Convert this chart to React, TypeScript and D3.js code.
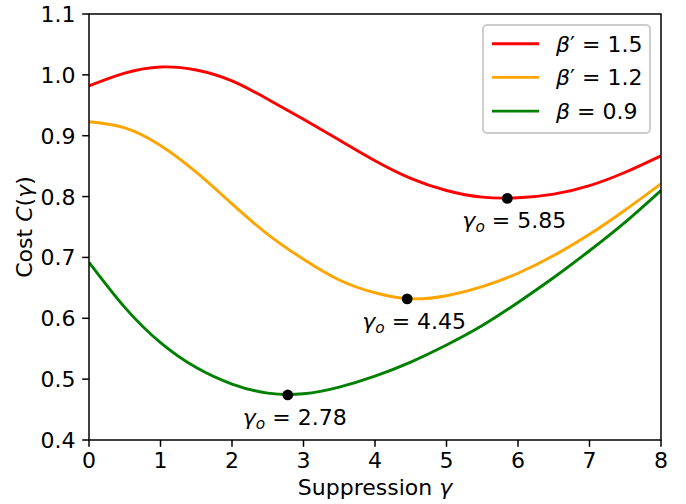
import React from "react";
import * as d3 from "d3";

// values
const gammas = [0, 0.5, 1, 1.5, 2, 2.5, 3, 3.5, 4, 4.5, 5, 5.5, 6, 6.5, 7, 7.5, 8];
const costRed = [0.982, 1.003, 1.013, 1.008, 0.99, 0.96, 0.927, 0.893, 0.859, 0.83, 0.81, 0.799, 0.798, 0.804, 0.818, 0.84, 0.867];
const costOrange = [0.923, 0.913, 0.884, 0.84, 0.788, 0.738, 0.697, 0.663, 0.642, 0.632, 0.637, 0.652, 0.674, 0.703, 0.738, 0.778, 0.821];
const costGreen = [0.692, 0.618, 0.56, 0.519, 0.492, 0.477, 0.476, 0.487, 0.505, 0.528, 0.556, 0.588, 0.626, 0.667, 0.711, 0.758, 0.81];

const seriesNames = ["1.5", "1.2", "0.9"];
const seriesPrime = [true, true, false];
const seriesColors = ["#ff0000", "#ffa500", "#008000"];

const optGamma = [5.85, 4.45, 2.78];
const optCost = [0.797, 0.632, 0.474];
const optLabels = ["5.85", "4.45", "2.78"];

const xTicks = [0, 1, 2, 3, 4, 5, 6, 7, 8];
const yTicks = [0.4, 0.5, 0.6, 0.7, 0.8, 0.9, 1.0, 1.1];

const W = 686;
const H = 504;
const margin = { left: 89, right: 25, top: 14, bottom: 64 };
const FONT = "DejaVu Sans";
const FS = 22;

export default function App() {
  const x = d3.scaleLinear().domain([0, 8]).range([margin.left, W - margin.right]);
  const y = d3.scaleLinear().domain([0.4, 1.1]).range([H - margin.bottom, margin.top]);
  const series = [costRed, costOrange, costGreen];
  const line = d3
    .line<number>()
    .x((_, i) => x(gammas[i]))
    .y((d) => y(d))
    .curve(d3.curveNatural);

  const x0 = x(0), x1 = x(8), y0 = y(0.4), y1 = y(1.1);
  const tick = 6.8;
  const fmt = d3.format(".1f");

  // legend box
  const lg = { x: 483, y: 25, w: 167, h: 108 };

  return (
    <svg
      width={W}
      height={H}
      style={{ position: "absolute", left: 0, top: 0, background: "#fff" }}
      fontFamily={FONT}
      fontSize={FS}
    >
      <rect width={W} height={H} fill="#fff" />
      <clipPath id="plot">
        <rect x={x0} y={y1} width={x1 - x0} height={y0 - y1} />
      </clipPath>

      <g clipPath="url(#plot)">
        {series.map((s, i) => (
          <path key={i} d={line(s) || ""} fill="none" stroke={seriesColors[i]} strokeWidth={2.9} />
        ))}
      </g>

      {optGamma.map((g, i) => (
        <g key={i}>
          <circle cx={x(g)} cy={y(optCost[i])} r={5.4} fill="#000" />
          <text x={x(g) + 7} y={y(optCost[i]) + 30} textAnchor="middle" fill="#000">
            <tspan fontStyle="italic">γ</tspan>
            <tspan fontStyle="italic" fontSize={FS * 0.7} dy={4}>o</tspan>
            <tspan dy={-4}>{" = " + optLabels[i]}</tspan>
          </text>
        </g>
      ))}

      {/* axes frame */}
      <rect x={x0} y={y1} width={x1 - x0} height={y0 - y1} fill="none" stroke="#000" strokeWidth={1.5} />

      {xTicks.map((t) => (
        <g key={"x" + t}>
          <line x1={x(t)} x2={x(t)} y1={y0} y2={y0 + tick} stroke="#000" strokeWidth={1.5} />
          <text x={x(t)} y={y0 + 28} textAnchor="middle">{t}</text>
        </g>
      ))}
      {yTicks.map((t) => (
        <g key={"y" + t}>
          <line x1={x0 - tick} x2={x0} y1={y(t)} y2={y(t)} stroke="#000" strokeWidth={1.5} />
          <text x={x0 - tick - 6.7} y={y(t) + 8} textAnchor="end">{fmt(t)}</text>
        </g>
      ))}

      <text x={(x0 + x1) / 2} y={495} textAnchor="middle">
        Suppression <tspan fontStyle="italic">γ</tspan>
      </text>
      <text transform={`translate(32, ${(y0 + y1) / 2}) rotate(-90)`} textAnchor="middle">
        Cost <tspan fontStyle="italic">C</tspan>(<tspan fontStyle="italic">γ</tspan>)
      </text>

      {/* legend */}
      <rect
        x={lg.x}
        y={lg.y}
        width={lg.w}
        height={lg.h}
        rx={4}
        fill="#fff"
        fillOpacity={0.8}
        stroke="#cccccc"
        strokeWidth={1.9}
      />
      {seriesNames.map((n, i) => {
        const cy = 43.7 + i * 33.7;
        return (
          <g key={"l" + i}>
            <line x1={492} x2={539} y1={cy} y2={cy} stroke={seriesColors[i]} strokeWidth={2.9} />
            <text x={556} y={cy + 8}>
              <tspan fontStyle="italic">β</tspan>
              {seriesPrime[i] ? <tspan>′</tspan> : null}
              <tspan>{" = " + n}</tspan>
            </text>
          </g>
        );
      })}
    </svg>
  );
}
